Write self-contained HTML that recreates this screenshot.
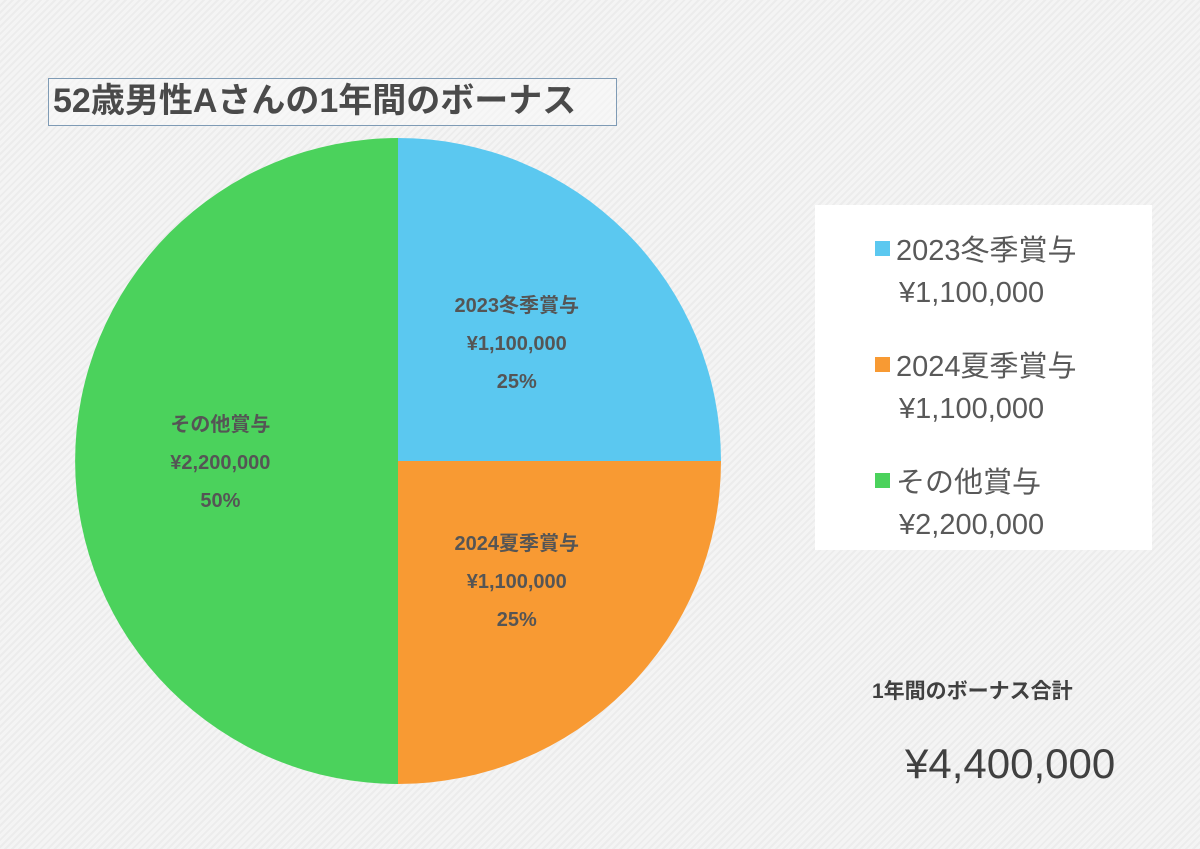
<!DOCTYPE html>
<html><head><meta charset="utf-8"><style>
body{margin:0;width:1200px;height:849px;overflow:hidden;background:#f2f2f2;font-family:"Liberation Sans","Noto Sans CJK JP",sans-serif;}
#wrap{position:relative;width:1200px;height:849px;background:repeating-linear-gradient(135deg,#f4f4f4 0 3px,#ececec 3px 5px);}
.title{position:absolute;left:48px;top:78px;width:569px;height:48px;border:1px solid #7f9bb5;box-sizing:border-box;font-size:34px;font-weight:bold;color:#4a4a4a;line-height:45px;padding-left:4px;background:rgba(248,248,248,.6);white-space:nowrap;}
.legend{position:absolute;left:815px;top:205px;width:337px;height:345px;background:#fff;}
.li{position:absolute;left:60px;font-size:29px;color:#595959;white-space:nowrap;}
.sw{display:inline-block;width:15px;height:15px;margin-right:6px;vertical-align:4px;}
.total-label{position:absolute;left:872px;top:675px;font-size:21px;font-weight:bold;color:#404040;}
.total{position:absolute;left:905px;top:740px;font-size:42px;color:#404040;}
</style></head><body><div id="wrap">
<div class="title">52歳男性Aさんの1年間のボーナス</div>
<svg id="pie" width="1200" height="849" style="position:absolute;left:0;top:0"></svg>
<div class="legend">
<div class="li" style="top:22px"><span class="sw" style="background:#5bc8f0"></span>2023冬季賞与</div>
<div class="li" style="top:72px;left:84px">¥1,100,000</div>
<div class="li" style="top:138px"><span class="sw" style="background:#f89a33"></span>2024夏季賞与</div>
<div class="li" style="top:188px;left:84px">¥1,100,000</div>
<div class="li" style="top:254px"><span class="sw" style="background:#4bd25c"></span>その他賞与</div>
<div class="li" style="top:304px;left:84px">¥2,200,000</div>
</div>
<div class="total-label">1年間のボーナス合計</div>
<div class="total">¥4,400,000</div>
</div>
<script>
const categories=["2023冬季賞与","2024夏季賞与","その他賞与"];
const values=[1100000,1100000,2200000];
const valueLabels=["¥1,100,000","¥1,100,000","¥2,200,000"];
const colors=["#5bc8f0","#f89a33","#4bd25c"];
const svg=document.getElementById('pie');
const NS="http://www.w3.org/2000/svg";
const cx=398,cy=461,r=323;
const total=values.reduce((a,b)=>a+b,0);
let a0=-Math.PI/2;
values.forEach((v,i)=>{
 const a1=a0+v/total*2*Math.PI;
 const large=(a1-a0)>Math.PI?1:0;
 const p=document.createElementNS(NS,'path');
 p.setAttribute('d',`M${cx},${cy} L${cx+r*Math.cos(a0)},${cy+r*Math.sin(a0)} A${r},${r} 0 ${large} 1 ${cx+r*Math.cos(a1)},${cy+r*Math.sin(a1)} Z`);
 p.setAttribute('fill',colors[i]);
 
 
 svg.appendChild(p);
 const am=(a0+a1)/2, lr=r*(v/total>=0.5?0.55:0.52);
 const lx=cx+lr*Math.cos(am), ly=cy+lr*Math.sin(am);
 const pct=Math.round(v/total*100)+'%';
 [categories[i],valueLabels[i],pct].forEach((t,j)=>{
  const tx=document.createElementNS(NS,'text');
  tx.setAttribute('x',lx);
  tx.setAttribute('y',ly-30+j*38);
  tx.setAttribute('text-anchor','middle');
  tx.setAttribute('font-size','20');
  tx.setAttribute('font-weight','bold');
  tx.setAttribute('fill','#555');
  tx.setAttribute('font-family','"Liberation Sans","Noto Sans CJK JP",sans-serif');
  tx.textContent=t;
  
  
  svg.appendChild(tx);
 });
 a0=a1;
});
</script>
</body></html>
